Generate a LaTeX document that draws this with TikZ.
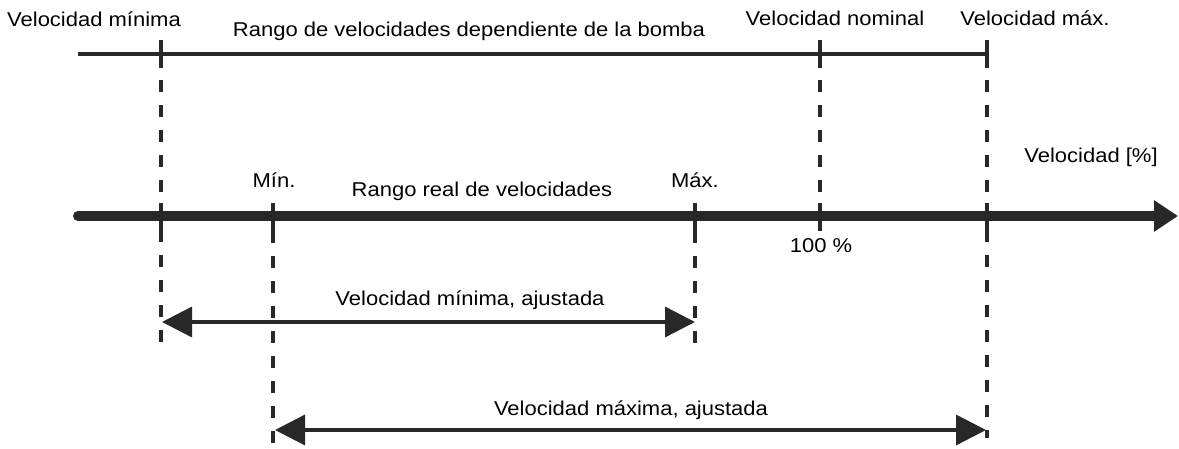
\documentclass[tikz,border=0pt]{standalone}
\usepackage{fontspec}
\setmainfont[FakeStretch=1.1]{Liberation Sans}
\usetikzlibrary{arrows.meta}
\definecolor{ink}{RGB}{40,40,40}
\tikzset{
  lbl/.style={inner sep=0pt, anchor=base, text=black, font=\fontsize{20}{24}\selectfont},
  thinline/.style={draw=ink, line width=3.4pt},
  tickmark/.style={draw=ink, line width=3.4pt},
  dashline/.style={draw=ink, line width=3.2pt, dash pattern=on 12pt off 13pt},
  axisline/.style={draw=ink, line width=10pt, line cap=round, -{Triangle[length=24pt,width=30pt]}},
  dimarrow/.style={draw=ink, line width=3.4pt, {Triangle[length=30pt,width=30pt]}-{Triangle[length=30pt,width=30pt]}},
}
\begin{document}
\begin{tikzpicture}[x=1pt,y=-1pt]
\useasboundingbox (0,0) rectangle (1179,449);
% top range line
\coordinate (tl) at (78,54);
\coordinate (tr) at (987,54);
\draw[thinline] (tl) -- (tr);
\coordinate (t1a) at (161,40); \coordinate (t1b) at (161,68);
\coordinate (t2a) at (820,40); \coordinate (t2b) at (820,68);
\coordinate (t3a) at (987,40); \coordinate (t3b) at (987,68);
\draw[tickmark] (t1a) -- (t1b);
\draw[tickmark] (t2a) -- (t2b);
\draw[tickmark] (t3a) -- (t3b);
% dashed guides
\coordinate (d1s) at (161,80); \coordinate (d1e) at (161,346);
\coordinate (d2s) at (820,80); \coordinate (d2e) at (820,203);
\coordinate (d3s) at (987,80); \coordinate (d3e) at (987,438);
\coordinate (m1s) at (273,231); \coordinate (m1e) at (273,449);
\coordinate (m2s) at (695,231); \coordinate (m2e) at (695,348);
\draw[dashline] (d1s) -- (d1e);
\draw[dashline] (d2s) -- (d2e);
\draw[dashline] (d3s) -- (d3e);
\draw[dashline] (m1s) -- (m1e);
\draw[dashline] (m2s) -- (m2e);
% main axis
\coordinate (ax0) at (78,216);
\coordinate (ax1) at (1178,216);
\draw[axisline] (ax0) -- (ax1);
% axis ticks
\coordinate (k1a) at (273,203); \coordinate (k1b) at (273,231);
\coordinate (k2a) at (695,203); \coordinate (k2b) at (695,231);
\coordinate (k3a) at (820,203); \coordinate (k3b) at (820,231);
\coordinate (k4a) at (987,203); \coordinate (k4b) at (987,231);
\coordinate (k5a) at (161,203); \coordinate (k5b) at (161,231);
\draw[tickmark] (k1a) -- (k1b);
\draw[tickmark] (k2a) -- (k2b);
\draw[tickmark] (k3a) -- (k3b);
\draw[tickmark] (k4a) -- (k4b);
\draw[tickmark] (k5a) -- (k5b);
% dimension arrows
\coordinate (a1l) at (162,322); \coordinate (a1r) at (695,322);
\coordinate (a2l) at (275,430); \coordinate (a2r) at (986,430);
\draw[dimarrow] (a1l) -- (a1r);
\draw[dimarrow] (a2l) -- (a2r);
% labels
\node[lbl] (vmin) at (94,27) {Velocidad mínima};
\node[lbl] (rango) at (469,37) {Rango de velocidades dependiente de la bomba};
\node[lbl] (vnom) at (835,26) {Velocidad nominal};
\node[lbl] (vmax) at (1035,26) {Velocidad máx.};
\node[lbl] (vel) at (1091,163) {Velocidad [\%]};
\node[lbl] (min) at (274,188) {Mín.};
\node[lbl] (real) at (482,197) {Rango real de velocidades};
\node[lbl] (max) at (695,188) {Máx.};
\node[lbl] (cien) at (821,253) {100 \%};
\node[lbl] (vminaj) at (470,306) {Velocidad mínima, ajustada};
\node[lbl] (vmaxaj) at (631,415) {Velocidad máxima, ajustada};
\end{tikzpicture}
\end{document}
